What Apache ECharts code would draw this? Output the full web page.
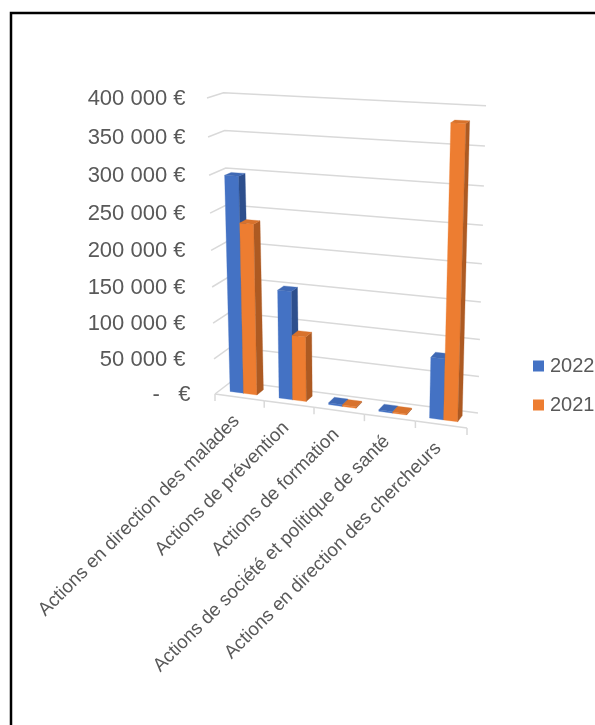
<!DOCTYPE html>
<html><head><meta charset="utf-8">
<style>html,body{margin:0;padding:0;background:#fff;overflow:hidden}#c{width:595px;height:725px;filter:blur(0.45px)}</style>
<script src="https://cdn.jsdelivr.net/npm/echarts@6/dist/echarts.min.js"></script>
</head><body><div id="c"></div>
<script>
const categories = ["Actions en direction des malades","Actions de prévention","Actions de formation","Actions de société et politique de santé","Actions en direction des chercheurs"];
const years = ["2022","2021"];
const values2022 = [298000,150000,2500,2000,82000];
const values2021 = [236000,90000,2000,1500,383000];
const valueTicks = [0,50000,100000,150000,200000,250000,300000,350000,400000];
const tickLabels = ["-   €","50 000 €","100 000 €","150 000 €","200 000 €","250 000 €","300 000 €","350 000 €","400 000 €"];

const GL=215,GT=98,GW=252,GH=296;
const C={flb:[215,394],frb:[467,428],blb:[232,381],brb:[478,413],flt:[207,98],frt:[477,112],blt:[223.5,92.7],brt:[486,105.7]};
const TEXT='#595959',GRID='#d9d9d9',FONT='"Liberation Sans",Arial,sans-serif';
const warp=(t,k)=>t/(1+k*(1-t));
function project(u,v,d){
  const a=warp(u,0.03),b=warp(v,0.06);
  const lerp=(p,q,t)=>[p[0]+(q[0]-p[0])*t,p[1]+(q[1]-p[1])*t];
  const bottom=lerp(lerp(C.flb,C.frb,a),lerp(C.blb,C.brb,a),d);
  const top=lerp(lerp(C.flt,C.frt,a),lerp(C.blt,C.brt,a),d);
  return lerp(bottom,top,b);
}
const toU=x=>(x-GL)/GW, toV=y=>(GT+GH-y)/GH;
const D0=0.3,D1=0.7;

function wallItem(params,api){
  const v=toV(api.coord([0,api.value(1)])[1]);
  const i=params.dataIndex;
  const pts=[project(0,v,0),project(0,v,1),project(1,v,1)];
  const kids=[{type:'polyline',shape:{points:pts},style:{stroke:GRID,lineWidth:1.5,fill:null}}];
  const p=project(0,v,0);
  kids.push({type:'text',x:i===0?190.5:185.5,y:p[1]+1,style:{text:tickLabels[i],fill:TEXT,fontSize:22,fontFamily:FONT,align:'right',verticalAlign:'middle'}});
  return {type:'group',children:kids};
}
function floorItem(params,api){
  const i=params.dataIndex;
  const c=api.coord([i,0]);const bw=api.size([1,0])[0];
  const u0=toU(c[0]-bw/2),u1=toU(c[0]+bw/2),uc=toU(c[0]);
  const a=project(u0,0,0),b=project(u1,0,0),m=project(uc,0,0);
  const kids=[{type:'line',shape:{x1:a[0],y1:a[1],x2:b[0],y2:b[1]},style:{stroke:GRID,lineWidth:1.5}},
    {type:'line',shape:{x1:b[0],y1:b[1],x2:b[0],y2:b[1]+7},style:{stroke:GRID,lineWidth:1.5}}];
  if(i===0)kids.push({type:'line',shape:{x1:a[0],y1:a[1],x2:a[0],y2:a[1]+7},style:{stroke:GRID,lineWidth:1.5}});
  kids.push({type:'text',x:m[0]-3,y:m[1]+21,rotation:Math.PI/4,style:{text:categories[i],fill:TEXT,fontSize:18.8,fontFamily:FONT,align:'right',verticalAlign:'middle'}});
  return {type:'group',children:kids};
}
function barRenderer(seriesPos,front,side,topc){
  return function(params,api){
    const i=api.value(0),val=api.value(1);
    const c=api.coord([i,val]);const bw=api.size([1,0])[0];
    const w=bw*0.275;
    const x0=c[0]-w+seriesPos*w-1, x1=x0+w;
    const u0=toU(x0),u1=toU(x1),v=toV(c[1]);
    const poly=(pts,fill)=>({type:'polygon',shape:{points:pts},style:{fill:fill,stroke:fill,lineWidth:0.3}});
    return {type:'group',children:[
      poly([project(u0,0,D0),project(u1,0,D0),project(u1,v,D0),project(u0,v,D0)],front),
      poly([project(u1,0,D0),project(u1,0,D1),project(u1,v,D1),project(u1,v,D0)],side),
      poly([project(u0,v,D0),project(u1,v,D0),project(u1,v,D1),project(u0,v,D1)],topc)
    ]};
  };
}
const chart=echarts.init(document.getElementById('c'),null,{renderer:'canvas'});
chart.setOption({
  animation:false,
  backgroundColor:'#fff',
  grid:{left:GL,top:GT,width:GW,height:GH,show:false},
  xAxis:{type:'category',data:categories,show:false},
  yAxis:{type:'value',min:0,max:400000,interval:50000,show:false},
  legend:{data:years,orient:'vertical',left:533,top:356,padding:0,itemWidth:11,itemHeight:11,itemGap:19,icon:'rect',
    textStyle:{color:TEXT,fontSize:20,fontFamily:FONT,padding:[0,0,0,1]}},
  graphic:[{type:'polyline',shape:{points:[[11,740],[11,13],[610,13]]},style:{stroke:'#000',lineWidth:2.5,fill:null},silent:true}],
  series:[
    {type:'custom',silent:true,renderItem:wallItem,data:valueTicks.map(t=>[0,t]),z:1},
    {type:'custom',silent:true,renderItem:floorItem,data:categories.map((_,i)=>[i,0]),z:1},
    {type:'custom',name:years[0],silent:true,itemStyle:{color:'#4472C4'},renderItem:barRenderer(0,'#4472C4','#2d4f8d','#3f69b5'),data:values2022.map((v,i)=>[i,v]),z:2},
    {type:'custom',name:years[1],silent:true,itemStyle:{color:'#ED7D31'},renderItem:barRenderer(1,'#ED7D31','#ad5a22','#d8722c'),data:values2021.map((v,i)=>[i,v]),z:3}
  ]
});
</script></body></html>
